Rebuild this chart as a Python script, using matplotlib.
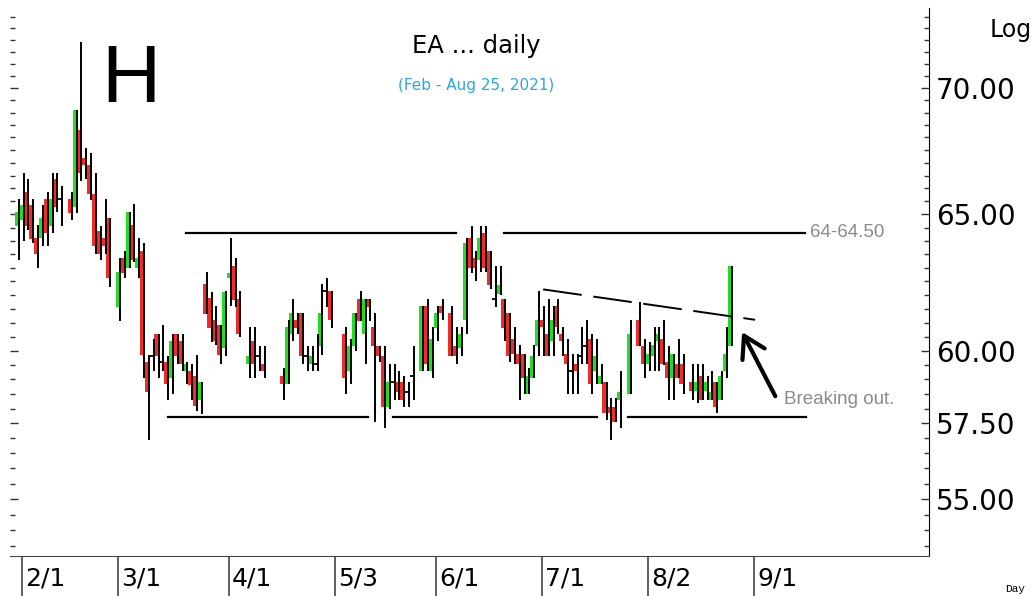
import numpy as np
import pandas as pd
import matplotlib
matplotlib.use('Agg')
import matplotlib.pyplot as plt
from matplotlib.ticker import FixedLocator, NullFormatter, FuncFormatter

# one slot per weekday, None = no bar drawn
days = pd.bdate_range('2021-01-29', '2021-08-25')

opens = [64.55,
    # feb
    64.8, 65.85, 65.35, 64.1, 64.1, 65.6, 64.55, 66.35, 65.6, None,
    65.6, 65.3, 68.3, 67.2, 66.9, 65.8, 64.35, 64.1, 64.85, None,
    # mar
    61.56, 63.35, 63.0, 64.6, 63.0, 63.6, 59.6, 59.8, 60.6, 59.6,
    59.6, 59.05, 60.6, 60.35, 59.3, 59.3, 59.1, 58.3, 62.4, 61.9,
    61.1, 60.9, 60.1,
    # apr
    62.6, 63.05, 61.85, None, 59.55, 60.35, 59.8, 59.55, None, None,
    None, 59.1, 58.85, 60.6, 61.1, 61.35, 59.8, 59.55, 59.55, 60.15,
    62.15, 62.15,
    # may
    None, None, 60.6, 59.3, 60.15, 61.85, 60.6, 61.85, 60.85, 60.15,
    59.8, 58.05, 58.9, 58.9, 58.9, 58.55, 59.1, None, 59.3, 61.6,
    59.3,
    # jun
    60.8, 61.6, None, 61.35, 60.15, 60.1, 61.1, 64.1, 63.35, 63.3,
    64.3, 63.6, 61.85, 62.05, 61.85, 61.35, 60.4, 59.9, 59.9, 58.5,
    59.05, 60.15,
    # jul
    61.1, 60.6, 60.35, 61.6, 60.6, 59.9, 59.3, 59.55, 59.8, 60.15,
    60.4, 59.3, 58.85, 58.9, 58.05, 58.05, 58.3, None, 58.5, None,
    61.1, 60.15,
    # aug
    59.55, 59.8, 60.35, 60.4, 59.6, 59.05, 59.55, 59.55, None, 58.9,
    58.6, 59.1, 58.6, 58.3, 58.9, 58.3, 59.3, 60.15]

highs = [65.6,
    66.6, 66.35, 65.6, 64.6, 65.35, 65.85, 66.6, 66.6, 66.1, None,
    65.85, 69.1, 71.9, 67.6, 67.4, 66.6, 64.55, 65.6, 64.85, None,
    63.35, 63.6, 65.1, 65.4, 64.1, 63.9, 59.85, 60.4, 60.6, 60.9,
    59.8, 60.6, 60.6, 60.6, 59.6, 59.55, 59.85, 58.9, 62.85, 62.1,
    61.6, 60.9, 62.15,
    64.1, 63.35, 62.15, None, 60.85, 60.85, 60.15, 60.15, None, None,
    None, 59.4, 61.1, 61.85, 61.35, 61.35, 60.15, 60.15, 60.6, 62.4,
    62.6, 62.15,
    None, None, 60.85, 60.4, 61.35, 62.15, 61.85, 61.85, 61.35, 60.15,
    60.15, 59.55, 59.55, 59.3, 59.1, 58.9, 60.15, None, 61.6, 61.85,
    60.85,
    61.6, 61.85, None, 61.6, 60.85, 60.85, 64.1, 64.55, 63.6, 64.55,
    64.55, 63.6, 63.05, 63.05, 61.85, 61.35, 60.85, 60.2, 59.9, 59.4,
    60.2, 62.15,
    61.6, 61.85, 61.6, 61.85, 60.85, 60.4, 59.9, 59.9, 60.85, 61.1,
    60.6, 60.4, 59.55, 58.9, 58.35, 58.35, 59.3, None, 61.1, None,
    61.75, 60.4,
    60.3, 60.85, 60.85, 61.1, 60.15, 59.9, 60.4, 59.9, None, 59.55,
    59.55, 59.55, 59.1, 59.3, 58.9, 59.3, 60.85, 63.05]

lows = [63.3,
    64.0, 64.4, 63.9, 63.0, 63.8, 63.8, 64.3, 65.1, 64.55, None,
    64.8, 65.05, 66.3, 66.35, 65.55, 63.5, 63.3, 63.5, 62.3, None,
    61.05, 62.6, 63.0, 63.2, 62.6, 59.05, 56.95, 59.3, 59.05, 59.3,
    58.3, 58.5, 59.55, 59.3, 58.85, 58.3, 57.9, 57.8, 61.3, 60.3,
    60.2, 59.55, 59.8,
    61.6, 61.55, 60.5, None, 59.05, 59.05, 59.3, 59.05, None, None,
    None, 58.3, 58.85, 60.35, 60.6, 59.55, 59.3, 59.3, 59.3, 59.85,
    61.55, 60.8,
    None, None, 58.5, 58.85, 60.0, 61.05, 59.55, 61.05, 57.55, 59.6,
    57.35, 58.0, 58.3, 58.3, 58.05, 58.05, 58.3, None, 59.3, 59.3,
    59.05,
    60.35, 61.1, None, 59.8, 59.55, 59.8, 60.6, 62.8, 62.5, 62.85,
    62.85, 62.2, 61.55, 62.0, 60.35, 59.6, 59.55, 58.3, 58.5, 58.5,
    59.05, 59.8,
    59.8, 59.8, 59.8, 60.6, 59.8, 58.5, 58.5, 58.5, 59.55, 59.55,
    58.5, 58.85, 58.85, 57.6, 56.95, 57.55, 57.35, None, 58.5, None,
    60.15, 59.05,
    59.3, 59.3, 59.3, 59.5, 58.3, 58.3, 59.05, 58.5, None, 58.3,
    58.2, 58.3, 58.3, 58.3, 57.85, 58.3, 59.05, 60.15]

closes = [65.1,
    65.35, 64.55, 64.05, 63.5, 64.85, 64.3, 65.6, 65.3, 65.6, None,
    65.05, 69.1, 66.6, 66.9, 65.8, 63.8, 63.5, 63.8, 62.6, None,
    62.85, 62.8, 65.1, 63.3, 63.35, 59.85, 58.55, 59.8, 59.8, 59.6,
    58.85, 60.35, 59.8, 59.55, 59.55, 58.8, 58.1, 58.9, 61.3, 60.8,
    60.35, 59.85, 62.1,
    62.8, 61.8, 60.6, None, 59.8, 59.55, 59.8, 59.3, None, None,
    None, 58.85, 60.85, 61.35, 60.8, 59.8, 59.8, 59.8, 59.55, 61.35,
    62.15, 61.1,
    None, None, 59.05, 60.15, 61.35, 61.05, 61.85, 61.55, 60.15, 59.8,
    58.05, 58.9, 58.9, 58.55, 58.3, 58.55, 59.1, None, 61.6, 59.55,
    60.4,
    61.35, 61.35, None, 59.8, 59.8, 60.6, 63.9, 63.0, 63.0, 64.1,
    63.0, 62.35, 61.85, 62.35, 60.8, 59.8, 59.9, 59.55, 59.05, 59.1,
    59.8, 61.1,
    60.85, 59.8, 61.1, 60.85, 60.35, 59.55, 59.3, 59.3, 59.8, 60.15,
    58.85, 59.8, 59.1, 57.85, 57.85, 57.55, 58.55, None, 60.6, None,
    60.15, 59.55,
    59.9, 60.2, 60.6, 59.55, 59.05, 59.9, 59.05, 58.85, None, 58.6,
    58.9, 58.3, 58.9, 58.55, 58.05, 59.1, 59.9, 63.05]

month_starts = ['2021-02-01', '2021-03-01', '2021-04-01', '2021-05-03',
                '2021-06-01', '2021-07-01', '2021-08-02', '2021-09-01']
month_labels = ['2/1', '3/1', '4/1', '5/3', '6/1', '7/1', '8/2', '9/1']
price_ticks = [55, 57.5, 60, 65, 70]

resistance = 64.3
resistance_spans = [(34.0, 90.0), (100.0, 162.6)]
support = 57.7
support_spans = [(30.3, 71.8), (77.0, 119.4), (125.8, 162.8)]
trend_x = [108.2, 152.2]
trend_y = [62.2, 61.1]

UP = '#1fe01f'
DOWN = '#f22a2a'


def slot(d):
    # weekday position counted from Feb 1
    return int(np.busday_count(np.datetime64('2021-02-01'),
                               np.datetime64(pd.Timestamp(d).date())))


W, H = 1031, 596
fig = plt.figure(figsize=(W / 100, H / 100), dpi=100)
ax = fig.add_axes([10 / W, 40 / H, 919 / W, 548 / H])
ax.set_yscale('log')
ax.set_xlim(-2.49, 188.3)
ax.set_ylim(53.19, 73.37)

df = pd.DataFrame({'o': opens, 'h': highs, 'l': lows, 'c': closes}, index=days, dtype=float)
df['x'] = [slot(d) for d in days]
df = df.dropna()

# wicks sit on the right edge of the body
ax.vlines(df['x'] + 0.35, df['l'], df['h'], color='black', lw=1.4, zorder=3)
up = df[df['c'] > df['o']]
dn = df[df['c'] < df['o']]
dj = df[df['c'] == df['o']]
ax.bar(up['x'] - 0.5, up['c'] - up['o'], bottom=up['o'], width=0.72,
       align='edge', color=UP, lw=0, zorder=2)
ax.bar(dn['x'] - 0.5, dn['o'] - dn['c'], bottom=dn['c'], width=0.72,
       align='edge', color=DOWN, lw=0, zorder=2)
ax.hlines(dj['o'], dj['x'] - 0.5, dj['x'] + 0.5, color='black', lw=1.3, zorder=3)

for a, b in resistance_spans:
    ax.plot([a, b], [resistance, resistance], color='black', lw=1.6, zorder=4)
for a, b in support_spans:
    ax.plot([a, b], [support, support], color='black', lw=1.6, zorder=4)
ax.plot(trend_x, trend_y, color='black', lw=1.4, dashes=(20, 6), zorder=4)

ax.annotate('', xy=(149.5, 60.66), xytext=(156.4, 58.42),
            arrowprops=dict(arrowstyle='->,head_length=0.75,head_width=0.45',
                            lw=3, color='black', shrinkA=0, shrinkB=0,
                            mutation_scale=20))

ax.text(163.6, 64.3, '64-64.50', fontsize=13.5, color='#8a8a8a',
        family='Liberation Sans', ha='left', va='center')
ax.text(158.1, 58.32, 'Breaking out.', fontsize=13.5, color='#8a8a8a',
        family='Liberation Sans', ha='left', va='center')

# axes look
for s in ['top', 'left']:
    ax.spines[s].set_visible(False)
ax.spines['right'].set_color('black')
ax.spines['bottom'].set_color('#444444')
ax.set_xticks([])
ax.yaxis.set_major_locator(FixedLocator(price_ticks))
ax.yaxis.set_major_formatter(FuncFormatter(lambda v, p: f'{v:.2f}'))
ax.yaxis.set_minor_locator(FixedLocator(np.arange(53.5, 73.5, 0.5)))
ax.yaxis.set_minor_formatter(NullFormatter())
ax.tick_params(axis='y', which='both', direction='in', left=True, right=True,
               labelleft=False, labelright=True, color='#333333')
ax.tick_params(axis='y', which='major', length=6, width=1, labelsize=20, pad=5)
ax.tick_params(axis='y', which='minor', length=3.5, width=1)

xt = ax.get_xaxis_transform()
seps = [slot(d) for d in month_starts]
ax.vlines(seps, 0, -40 / 548, transform=xt, clip_on=False, color='#444444', lw=1.2)
for sx, lab in zip(seps, month_labels):
    ax.text(sx + 0.6, -22 / 548, lab, transform=xt, fontsize=18,
            ha='left', va='center')

fig.text(131 / W, 1 - 102 / H, 'H', fontsize=59, family='Liberation Sans',
         ha='center', va='baseline')
fig.text(476 / W, 1 - 53 / H, 'EA ... daily', fontsize=17.5, ha='center', va='baseline')
fig.text(476 / W, 1 - 90 / H, '(Feb - Aug 25, 2021)', fontsize=11,
         color='#29a8e0', ha='center', va='baseline')
fig.text(990 / W, 1 - 37 / H, 'Log', fontsize=17, ha='left', va='baseline')
fig.text(1005 / W, 1 - 592 / H, 'Day', fontsize=8, family='Liberation Mono',
         ha='left', va='baseline')

fig.savefig('out.png', dpi=100, facecolor='white')
